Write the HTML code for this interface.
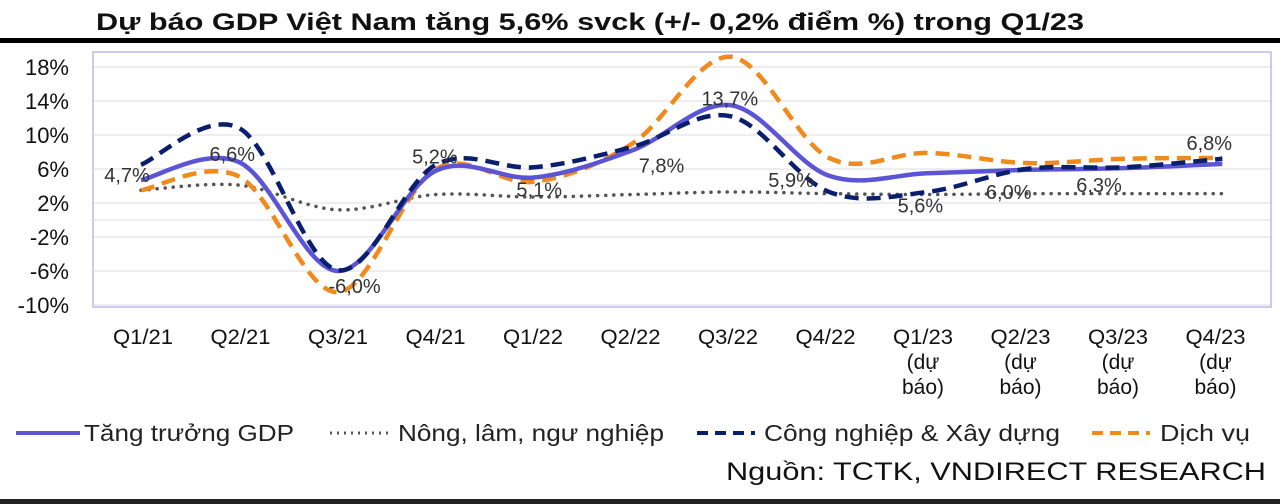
<!DOCTYPE html>
<html><head><meta charset="utf-8"><style>
body{margin:0;background:#fff;}
svg{display:block;font-family:"Liberation Sans",sans-serif;}
</style></head><body>
<svg id="chart" width="1280" height="504" viewBox="0 0 1280 504" xmlns="http://www.w3.org/2000/svg">
<text x="96" y="30" font-size="24" font-weight="bold" fill="#111" textLength="988" lengthAdjust="spacingAndGlyphs">Dự báo GDP Việt Nam tăng 5,6% svck (+/- 0,2% điểm %) trong Q1/23</text>
<rect x="0" y="38" width="1280" height="5" fill="#000"/>
<rect x="93" y="52" width="1178" height="255" fill="none" stroke="#b8bce8" stroke-width="1.5"/>
<g id="grid"></g><g id="yticks"></g><g id="xticks"></g><g id="series"></g><g id="labels"></g>
<g>
<line x1="16" y1="433" x2="80" y2="433" stroke="#5b55d6" stroke-width="4"/>
<text x="84" y="441" font-size="23" fill="#222" textLength="210" lengthAdjust="spacingAndGlyphs">Tăng trưởng GDP</text>
<line x1="330" y1="433" x2="390" y2="433" stroke="#555" stroke-width="3" stroke-dasharray="2 5"/>
<text x="398" y="441" font-size="23" fill="#222" textLength="266" lengthAdjust="spacingAndGlyphs">Nông, lâm, ngư nghiệp</text>
<line x1="697" y1="433" x2="755" y2="433" stroke="#0a1e6e" stroke-width="4" stroke-dasharray="11 7"/>
<text x="764" y="441" font-size="23" fill="#222" textLength="296" lengthAdjust="spacingAndGlyphs">Công nghiệp &amp; Xây dựng</text>
<line x1="1092" y1="433" x2="1150" y2="433" stroke="#f08a1c" stroke-width="4" stroke-dasharray="11 7"/>
<text x="1160" y="441" font-size="23" fill="#222" textLength="90" lengthAdjust="spacingAndGlyphs">Dịch vụ</text>
</g>
<text x="1266" y="480" font-size="25" fill="#111" text-anchor="end" textLength="540" lengthAdjust="spacingAndGlyphs">Nguồn: TCTK, VNDIRECT RESEARCH</text>
<rect x="0" y="499" width="1280" height="5" fill="#222"/>
</svg>
<script>
const categories=["Q1/21","Q2/21","Q3/21","Q4/21","Q1/22","Q2/22","Q3/22","Q4/22","Q1/23","Q2/23","Q3/23","Q4/23"];
const forecastFlags=[0,0,0,0,0,0,0,0,1,1,1,1];
const gdp=[4.7,6.8,-6.0,5.8,5.0,8.2,13.5,5.2,5.5,5.9,6.1,6.6];
const agri=[3.5,4.1,1.2,3.0,2.7,3.0,3.3,3.1,3.0,3.1,3.1,3.1];
const industry=[6.5,10.8,-5.9,6.5,6.2,8.6,12.2,3.3,3.3,6.0,6.2,7.2];
const services=[3.5,5.1,-8.5,6.0,4.5,9.0,19.2,7.3,7.9,6.7,7.2,7.3];
const gdpLabels=["4,7%","6,6%","-6,0%","5,2%","5,1%","7,8%","13,7%","5,9%","5,6%","6,0%","6,3%","6,8%"];
const yTicks=[18,14,10,6,2,-2,-6,-10];
const gridVals=[18,14,10,6,2,0,-2,-6,-10];
const NS="http://www.w3.org/2000/svg";
const y=v=>67+(18-v)*8.5;
const x=i=>141+i*98.3;
const xl=i=>143+i*97.5;
function mk(tag,attrs,parent){const e=document.createElementNS(NS,tag);for(const k in attrs)e.setAttribute(k,attrs[k]);document.getElementById(parent).appendChild(e);return e;}
gridVals.forEach(v=>{const l=mk('line',{x1:94,x2:1270,y1:y(v),y2:y(v),stroke:'#e2e2ea','stroke-width':1.3},'grid');

});
yTicks.forEach(v=>{const t=mk('text',{x:69,y:y(v)+8,'font-size':22,'text-anchor':'end',fill:'#111'},'yticks');t.textContent=v+'%';

});
categories.forEach((c,i)=>{const t=mk('text',{x:xl(i),y:344,'font-size':21,'text-anchor':'middle',fill:'#111',textLength:60,lengthAdjust:'spacingAndGlyphs'},'xticks');t.textContent=c;


if(forecastFlags[i]){const a=mk('text',{x:xl(i),y:369,'font-size':21,'text-anchor':'middle',fill:'#111'},'xticks');a.textContent='(dự';


const b=mk('text',{x:xl(i),y:394,'font-size':21,'text-anchor':'middle',fill:'#111'},'xticks');b.textContent='báo)';

}});
function path(vals){const p=vals.map((v,i)=>[x(i),y(v)]);let d='M'+p[0][0]+','+p[0][1];
for(let i=0;i<p.length-1;i++){const p0=p[i-1]||p[i],p1=p[i],p2=p[i+1],p3=p[i+2]||p2;
d+=' C'+(p1[0]+(p2[0]-p0[0])/6)+','+(p1[1]+(p2[1]-p0[1])/6)+' '+(p2[0]-(p3[0]-p1[0])/6)+','+(p2[1]-(p3[1]-p1[1])/6)+' '+p2[0]+','+p2[1];}return d;}
const a=mk('path',{d:path(agri),fill:'none',stroke:'#555','stroke-width':3.5,'stroke-dasharray':'0.1 8','stroke-linecap':'round'},'series');


const s=mk('path',{d:path(services),fill:'none',stroke:'#f08a1c','stroke-width':4.5,'stroke-dasharray':'14 8'},'series');


const g=mk('path',{d:path(gdp),fill:'none',stroke:'#5b55d6','stroke-width':4.5},'series');


const n=mk('path',{d:path(industry),fill:'none',stroke:'#0a1e6e','stroke-width':4.5,'stroke-dasharray':'14 8'},'series');


const ldx=[-14,-7,17,-1,5,29,-1,-38,-7,-17,-25,-13];
const ldy=[-5,-8,15,-14,12,15,-7,4,32,22,17,-21];
gdpLabels.forEach((l,i)=>{const t=mk('text',{x:x(i)+ldx[i],y:y(gdp[i])+ldy[i]+7,'font-size':20,'text-anchor':'middle',fill:'#333'},'labels');t.textContent=l;

});
</script>
</body></html>
